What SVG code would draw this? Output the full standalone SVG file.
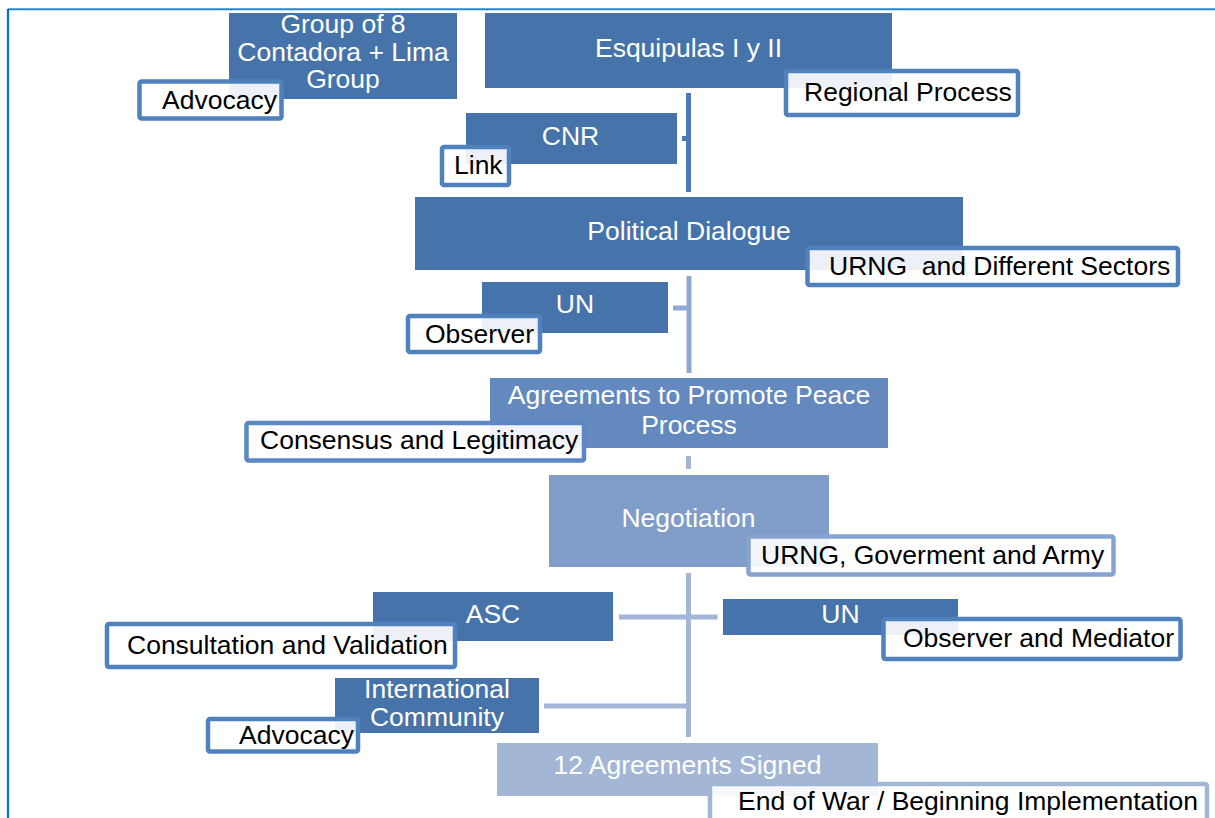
<svg xmlns="http://www.w3.org/2000/svg" width="1215" height="818" viewBox="0 0 1215 818">
<style>
.box{fill:#4673AA}
.box2{fill:#6389BF}
.box3{fill:#7F9DC8}
.box4{fill:#A3B6D6}
.lbl{fill:#ffffff;fill-opacity:0.9;stroke:#4F81BD;stroke-width:4.5}
.lbl3{stroke:#87A3D0}
.lbl4{stroke:#A3B6D6}
.wt{font-family:"Liberation Sans",Arial,sans-serif;font-size:26.5px;fill:#ffffff;text-anchor:middle}
.bt{font-family:"Liberation Sans",Arial,sans-serif;font-size:26.5px;fill:#000000;white-space:pre}
.c1{stroke:#4A7BB7;stroke-width:5;fill:none}
.c2{stroke:#8EA9D3;stroke-width:5;fill:none}
.c3{stroke:#A3B6D7;stroke-width:5;fill:none}
</style>
<rect x="0" y="0" width="1215" height="818" fill="#ffffff"/>
<g id="frame">
<line x1="8" y1="9.3" x2="1215" y2="9.3" stroke="#2B84C6" stroke-width="2"/>
<line x1="8" y1="9" x2="8" y2="818" stroke="#0070C0" stroke-width="2.2"/>
</g>
<g id="connectors">
<line class="c1" x1="688.5" y1="93" x2="688.5" y2="192"/>
<line class="c1" x1="682" y1="138.5" x2="688.5" y2="138.5"/>
<line class="c2" x1="689" y1="276" x2="689" y2="373"/>
<line class="c2" x1="673" y1="308" x2="689" y2="308"/>
<line class="c3" x1="688.5" y1="456" x2="688.5" y2="469"/>
<line class="c3" x1="688.5" y1="573" x2="688.5" y2="737"/>
<line class="c3" x1="619" y1="617" x2="717.5" y2="617"/>
<line class="c3" x1="544" y1="706" x2="688.5" y2="706"/>
</g>
<g id="node-group8">
<rect class="box" x="229" y="13" width="228" height="86"/>
<text class="wt" x="343" y="33">Group of 8</text>
<text class="wt" x="343" y="61">Contadora + Lima</text>
<text class="wt" x="343" y="88">Group</text>
<rect class="lbl" x="139.5" y="81.5" width="142" height="37" rx="2"/>
<text class="bt" x="162" y="109">Advocacy</text>
</g>
<g id="node-esquipulas">
<rect class="box" x="485" y="13" width="407" height="75"/>
<text class="wt" x="688.5" y="57">Esquipulas I y II</text>
<rect class="lbl" x="786" y="71" width="232" height="44" rx="2"/>
<text class="bt" x="804" y="101">Regional Process</text>
</g>
<g id="node-cnr">
<rect class="box" x="466" y="113" width="211" height="51"/>
<text class="wt" x="570.5" y="145">CNR</text>
<rect class="lbl" x="442" y="147" width="67" height="38" rx="2"/>
<text class="bt" x="454" y="174">Link</text>
</g>
<g id="node-political">
<rect class="box" x="415" y="197" width="548" height="73"/>
<text class="wt" x="689" y="240">Political Dialogue</text>
<rect class="lbl" x="807.5" y="248" width="370.5" height="37" rx="2"/>
<text class="bt" x="829" y="275">URNG  and Different Sectors</text>
</g>
<g id="node-un1">
<rect class="box" x="482" y="282" width="186" height="51"/>
<text class="wt" x="575" y="313">UN</text>
<rect class="lbl" x="408" y="316" width="132" height="36" rx="2"/>
<text class="bt" x="425" y="343">Observer</text>
</g>
<g id="node-agreements">
<rect class="box2" x="490" y="378" width="398" height="70"/>
<text class="wt" x="689" y="404">Agreements to Promote Peace</text>
<text class="wt" x="689" y="434">Process</text>
<rect class="lbl" x="246.5" y="423" width="337.5" height="37.5" rx="2" style="stroke:#5B87C4"/>
<text class="bt" x="260" y="449">Consensus and Legitimacy</text>
</g>
<g id="node-negotiation">
<rect class="box3" x="549" y="475" width="280" height="92"/>
<text class="wt" x="688.5" y="527">Negotiation</text>
<rect class="lbl lbl3" x="748.5" y="536.5" width="365" height="38" rx="2"/>
<text class="bt" x="761" y="564">URNG, Goverment and Army</text>
</g>
<g id="node-asc">
<rect class="box" x="373" y="592" width="240" height="49"/>
<text class="wt" x="493" y="623">ASC</text>
<rect class="lbl" x="107" y="624" width="348" height="43" rx="2"/>
<text class="bt" x="127" y="654">Consultation and Validation</text>
</g>
<g id="node-un2">
<rect class="box" x="723" y="599" width="235" height="36"/>
<text class="wt" x="840.5" y="623">UN</text>
<rect class="lbl" x="883.5" y="619" width="297" height="40" rx="2"/>
<text class="bt" x="903" y="647">Observer and Mediator</text>
</g>
<g id="node-international">
<rect class="box" x="335" y="678" width="204" height="55"/>
<text class="wt" x="437" y="698">International</text>
<text class="wt" x="437" y="726">Community</text>
<rect class="lbl" x="208" y="719" width="150" height="32.5" rx="2"/>
<text class="bt" x="239" y="744">Advocacy</text>
</g>
<g id="node-signed">
<rect class="box4" x="497" y="743" width="381" height="53"/>
<text class="wt" x="687.5" y="774">12 Agreements Signed</text>
<rect class="lbl lbl4" x="710" y="784" width="497" height="50" rx="2"/>
<text class="bt" x="738" y="810">End of War / Beginning Implementation</text>
</g>
</svg>
